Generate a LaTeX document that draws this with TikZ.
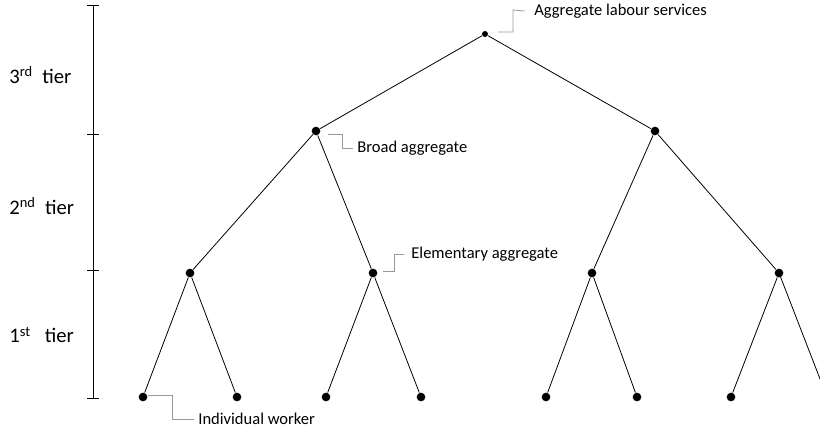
\documentclass[tikz,border=0pt]{standalone}
\usepackage{fontspec}
\setmainfont{Carlito}
\tikzset{
  dot/.style={circle, fill=black, inner sep=0pt, minimum size=6.5pt},
  smalldot/.style={circle, fill=black, inner sep=0pt, minimum size=4.5pt},
  callout/.style={draw=gray!80, line width=0.6pt},
  lbl/.style={anchor=west, inner sep=0pt, font=\fontsize{12.4}{14}\selectfont},
  tierlbl/.style={anchor=west, inner sep=0pt, font=\fontsize{15.5}{17}\selectfont},
}
\begin{document}
\begin{tikzpicture}[x=0.75pt, y=-0.75pt, line width=0.6pt]
            \useasboundingbox (0,0) rectangle (820,429);

            % tier scale
            \coordinate (s3) at (93,5);
            \coordinate (s2) at (93,134);
            \coordinate (s1) at (93,270);
            \coordinate (s0) at (93,398);
            \draw (s3) -- (s0);
            \foreach \t in {s3,s2,s1,s0}
              \draw ([xshift=-4.5pt]\t) -- ([xshift=4.5pt]\t);
            \node[tierlbl] (tier3) at (9,75) {3\textsuperscript{rd}\ \ tier};
            \node[tierlbl] (tier2) at (9,206) {2\textsuperscript{nd}\ \ tier};
            \node[tierlbl] (tier1) at (9,335) {1\textsuperscript{st}\ \ \ tier};

            % tree
            \node[smalldot] (top)    at (485,34) {};
            \node[dot] (broadL) at (316,131) {};
            \node[dot] (broadR) at (655,131) {};
            \node[dot] (elem1)  at (190,273) {};
            \node[dot] (elem2)  at (373,273) {};
            \node[dot] (elem3)  at (592,273) {};
            \node[dot] (elem4)  at (779,273) {};
            \node[dot] (work1)  at (143,397) {};
            \node[dot] (work2)  at (237,397) {};
            \node[dot] (work3)  at (326,397) {};
            \node[dot] (work4)  at (421,397) {};
            \node[dot] (work5)  at (546,397) {};
            \node[dot] (work6)  at (637,397) {};
            \node[dot] (work7)  at (731,397) {};
            \coordinate (work8) at (827,397);

            \draw (top) -- (broadL);
            \draw (top) -- (broadR);
            \draw (broadL) -- (elem1);
            \draw (broadL) -- (elem2);
            \draw (broadR) -- (elem3);
            \draw (broadR) -- (elem4);
            \draw (elem1) -- (work1);
            \draw (elem1) -- (work2);
            \draw (elem2) -- (work3);
            \draw (elem2) -- (work4);
            \draw (elem3) -- (work5);
            \draw (elem3) -- (work6);
            \draw (elem4) -- (work7);
            \draw (elem4.center) -- (work8);

            % callouts
            \node[lbl] (agg) at (534,11) {Aggregate labour services};
            \node[lbl] (broad) at (357,148) {Broad aggregate};
            \node[lbl] (elem) at (411,254) {Elementary aggregate};
            \node[lbl] (indiv) at (198,419) {Individual worker};

            \draw[callout] (498,32) -- (513,32) -- (513,10) -- ([xshift=-7pt]agg.west);
            \draw[callout] (328,134) -- (342,134) -- (342,148) -- ([xshift=-3pt]broad.west);
            \draw[callout] (383,271) -- (394,271) -- (394,254) -- ([xshift=-5pt]elem.west);
            \draw[callout] (148,395) -- (172,395) -- (172,419) -- ([xshift=-3pt]indiv.west);
\end{tikzpicture}
\end{document}
